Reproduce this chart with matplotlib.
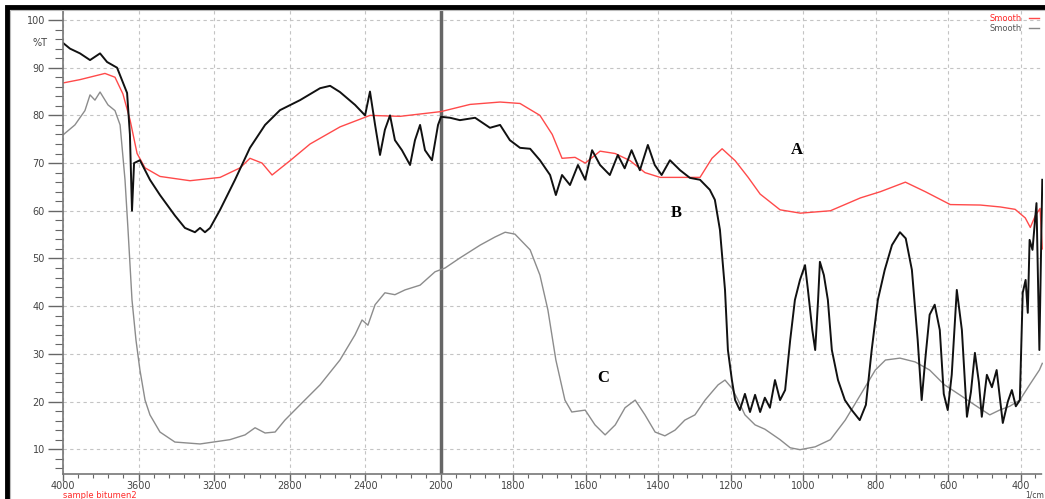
import numpy as np
import matplotlib.pyplot as plt
from matplotlib.ticker import FixedLocator, FixedFormatter
from matplotlib.lines import Line2D
from matplotlib.patches import Rectangle


# curve A (red)
wn_a = [4000, 3910, 3778, 3725, 3683, 3645, 3608, 3566, 3487, 3328, 3169, 3063,
        3011, 2947, 2894, 2799, 2693, 2534, 2376, 2217, 2000, 1920, 1837, 1782,
        1727, 1693, 1666, 1630, 1602, 1561, 1519, 1478, 1437, 1395, 1285, 1252,
        1224, 1188, 1152, 1119, 1064, 1008, 925, 842, 787, 718, 663, 594, 511,
        456, 415, 387, 373, 359, 346, 340]
t_a = [86.8, 87.5, 88.8, 88.0, 84.5, 79, 72, 69, 67.2, 66.3, 67.0, 69.0,
       71.0, 70.0, 67.5, 70.5, 74, 77.6, 80, 79.8, 80.8, 82.3, 82.8, 82.5,
       80, 76, 71, 71.2, 70, 72.5, 72, 70.5, 68, 67, 67, 71,
       73, 70.5, 67, 63.5, 60.2, 59.5, 60, 62.7, 64, 66, 64, 61.3, 61.2,
       60.8, 60.3, 58.5, 56.5, 59, 60.5, 52]

# curve B (black)
wn_b = [4000, 3963, 3910, 3857, 3804, 3767, 3714, 3688, 3661, 3646, 3635, 3624,
        3593, 3540, 3487, 3408, 3355, 3302, 3275, 3249, 3222, 3169, 3090, 3011,
        2931, 2852, 2746, 2640, 2587, 2535, 2455, 2402, 2376, 2349, 2323, 2297,
        2270, 2244, 2207, 2164, 2138, 2111, 2085, 2048, 2016, 2000, 1975, 1948,
        1906, 1865, 1837, 1810, 1782, 1754, 1727, 1699, 1683, 1666, 1644, 1622,
        1602, 1583, 1561, 1534, 1512, 1493, 1474, 1451, 1429, 1410, 1391, 1368,
        1340, 1313, 1285, 1258, 1244, 1230, 1216, 1208, 1197, 1188, 1175, 1161,
        1147, 1133, 1119, 1106, 1092, 1078, 1064, 1050, 1036, 1023, 1009, 995,
        987, 975, 967, 959, 954, 943, 932, 921, 904, 885, 866, 844, 827, 811,
        794, 775, 755, 733, 717, 700, 684, 673, 662, 651, 637, 623, 612, 601,
        590, 576, 562, 548, 537, 526, 515, 507, 493, 479, 466, 449, 435, 424,
        413, 402, 394, 386, 380, 375, 367, 356, 348, 340]
t_b = [95.2, 94, 93, 91.6, 93, 91.2, 90, 87.4, 84.7, 76, 60, 70,
       70.6, 66.5, 63.3, 59, 56.4, 55.5, 56.4, 55.5, 56.4, 60.2, 66.5, 73.2,
       78, 81.1, 83.2, 85.7, 86.2, 84.9, 82.2, 80, 85, 78, 71.7, 77,
       80, 74.8, 72.7, 69.6, 74.8, 78, 72.7, 70.6, 78, 79.7, 79.5, 79,
       79.5, 77.4, 78, 74.8, 73.2, 73, 70.6, 67.5, 63.3, 67.5, 65.4, 69.6,
       66.5, 72.7, 69.6, 67.5, 71.7, 68.9, 72.7, 68.5, 73.8, 69.6, 67.5, 70.6,
       68.5, 66.9, 66.5, 64.4, 62.3, 56, 43.4, 30.8, 24.5, 20.3, 18.2, 21.6,
       17.8, 21.4, 17.8, 20.8, 18.7, 24.5, 20.3, 22.4, 32.9, 41.3, 45.5, 48.6,
       43.4, 35, 30.8, 41.3, 49.3, 46.5, 41.3, 30.8, 24.5, 20.3, 18.2, 16.1, 19.3, 30.8,
       41.3, 47.6, 52.8, 55.5, 54.2, 47.6, 32.9, 20.3, 29.7, 38.2, 40.3, 35, 21.6, 18.2,
       25.6, 43.4, 35, 16.8, 22, 30.2, 24, 16.8, 25.6, 23, 26.6, 15.5, 20, 22.4,
       19, 20.3, 42.8, 45.5, 38.6, 53.9, 51.8, 61.6, 30.8, 66.5]

# curve C (grey)
wn_c = [4000, 3937, 3884, 3857, 3831, 3804, 3762, 3725, 3698, 3672, 3656, 3635,
        3614, 3593, 3566, 3540, 3487, 3408, 3275, 3117, 3037, 2984, 2931, 2878,
        2826, 2746, 2640, 2535, 2455, 2418, 2387, 2349, 2297, 2244, 2191, 2111,
        2032, 1989, 1948, 1892, 1851, 1823, 1796, 1754, 1727, 1705, 1683, 1658,
        1639, 1602, 1575, 1547, 1519, 1492, 1464, 1437, 1409, 1382, 1354, 1327,
        1299, 1271, 1252, 1235, 1216, 1197, 1180, 1161, 1133, 1106, 1064, 1036,
        1009, 967, 925, 884, 842, 801, 773, 733, 691, 651, 610, 568, 527, 485,
        458, 430, 402, 375, 348, 340]
t_c = [75.9, 78, 81, 84.3, 83.2, 84.9, 82.2, 81, 78, 66.5, 56, 41.3,
       32.9, 26.6, 20.3, 17.2, 13.6, 11.5, 11.1, 12, 13, 14.5, 13.4, 13.6,
       16.1, 19.3, 23.5, 28.7, 34, 37.1, 36, 40.3, 42.8, 42.4, 43.4, 44.4,
       47.2, 48, 50.1, 52.8, 54.5, 55.5, 55.1, 51.8, 46.5, 39.2, 28.7, 20.3,
       17.8, 18.2, 15.1, 13, 15.1, 18.7, 20.3, 17.2, 13.6, 12.8, 14, 16.1,
       17.2, 20.3, 22, 23.5, 24.5, 22.8, 20.3, 17.2, 15.1, 14.2, 12, 10.3,
       9.9, 10.5, 12, 16.1, 21.4, 26.6, 28.7, 29.1, 28.3, 26.6, 23.5, 21.4, 19.3, 17.2,
       18.2, 19, 20.3, 23.5, 26.6, 28]

major_x = [4000, 3600, 3200, 2800, 2400, 2000, 1800, 1600, 1400, 1200, 1000, 800, 600, 400]
major_y = [10, 20, 30, 40, 50, 60, 70, 80, 90, 100]


# wavenumber axis: 400 cm-1 per division above 2000, 200 per division below
def fwd(w):
    w = np.asarray(w, dtype=float)
    return np.where(w >= 2000, (w - 4000) / 400.0, -5 - (2000 - w) / 200.0 * 0.958)


def inv(p):
    p = np.asarray(p, dtype=float)
    return np.where(p >= -5, 4000 + p * 400.0, 2000 + (p + 5) * 200.0 / 0.958)


fig = plt.figure(figsize=(10.45, 4.99), dpi=100)
ax = fig.add_axes([63/1045, 25/499, 980/1045, 464/499])

ax.set_xscale('function', functions=(fwd, inv))
ax.set_xlim(4000, 338)
ax.set_ylim(4.8, 102.1)

tick_col = '#666666'
ax.plot(wn_c, t_c, color='#8c8c8c', lw=1.0)
ax.plot(wn_a, t_a, color='#ff4a4a', lw=1.0)
ax.plot(wn_b, t_b, color='#111111', lw=1.4)

ax.axvline(2000, color='#666666', lw=2.5, zorder=1)

ax.xaxis.set_major_locator(FixedLocator(major_x))
ax.xaxis.set_major_formatter(FixedFormatter([str(v) for v in major_x]))
minor_x = list(np.arange(4000, 2000, -80)) + list(np.arange(2000, 330, -40))
ax.xaxis.set_minor_locator(FixedLocator(minor_x))
ax.yaxis.set_major_locator(FixedLocator(major_y))
ax.yaxis.set_minor_locator(FixedLocator(list(np.arange(6, 102, 2))))

ax.tick_params(axis='both', which='major', labelsize=7, colors=tick_col,
               labelcolor='#444444', direction='out', width=1.0)
ax.tick_params(axis='y', which='major', length=11, pad=2)
ax.tick_params(axis='y', which='minor', length=5.5, color=tick_col, width=0.8)
ax.tick_params(axis='x', which='major', length=5, pad=0)
ax.tick_params(axis='x', which='minor', length=3, color=tick_col, width=0.8)

ax.grid(True, which='major', color='#c4c4c4', linestyle=(0, (3, 3)), lw=0.8)
ax.set_axisbelow(True)

for s in ['top', 'right']:
    ax.spines[s].set_visible(False)
ax.spines['left'].set_color('#777777')
ax.spines['left'].set_linewidth(1.2)
ax.spines['bottom'].set_color('#777777')
ax.spines['bottom'].set_linestyle((0, (2, 1)))
ax.spines['bottom'].set_linewidth(1.2)

# panel frame and outer border
fig.add_artist(Rectangle((10/1045, -0.05), 1.1, (499 - 10)/499 + 0.05,
                         transform=fig.transFigure, fill=False,
                         edgecolor='#bbbbbb', lw=0.8))
fig.add_artist(Rectangle((7/1045, -0.05), 1.1, (499 - 7)/499 + 0.05,
                         transform=fig.transFigure, fill=False,
                         edgecolor='black', lw=3.5))

ax.text(1017, 72.7, 'A', family='Liberation Serif', weight='bold', fontsize=12,
        ha='center', va='center')
ax.text(1351, 59.5, 'B', family='Liberation Serif', weight='bold', fontsize=12,
        ha='center', va='center')
ax.text(1553, 25, 'C', family='Liberation Serif', weight='bold', fontsize=12,
        ha='center', va='center')

fig.text(40/1045, 1 - 43/499, '%T', fontsize=7, color='#444444', ha='center', va='center')
fig.text(63/1045, 1 - 495.5/499, 'sample bitumen2', fontsize=6, color='#ff2a2a',
         ha='left', va='center')
fig.text(1044/1045, 1 - 495.5/499, '1/cm', fontsize=5.5, color='#444444',
         ha='right', va='center')

handles = [Line2D([], [], color='#ff4a4a', lw=1.0), Line2D([], [], color='#888888', lw=1.0)]
leg = ax.legend(handles, ['Smooth', 'Smooth'], loc='upper right', fontsize=6,
                markerfirst=False, frameon=False, handlelength=1.2,
                borderaxespad=0.1, labelspacing=0.05, bbox_to_anchor=(1.0, 1.0))
leg.get_texts()[0].set_color('#ff2a2a')
leg.get_texts()[1].set_color('#555555')

fig.savefig('out.png', dpi=100)
